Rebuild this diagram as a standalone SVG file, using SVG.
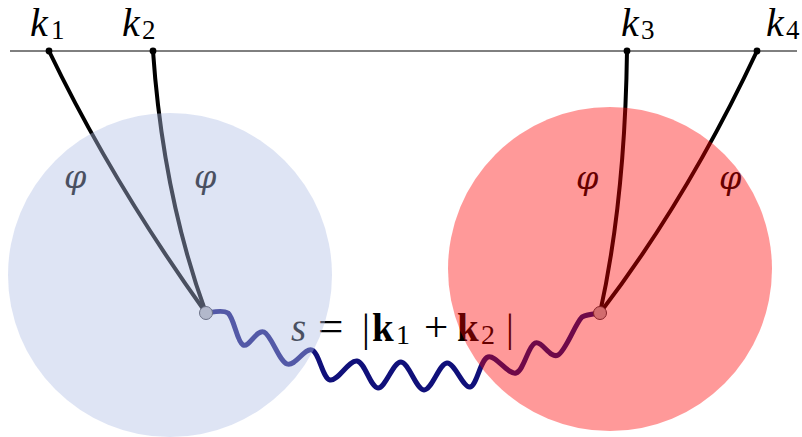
<svg xmlns="http://www.w3.org/2000/svg" width="802" height="437" viewBox="0 0 802 437">
<style>
.lbl{font-family:"Liberation Serif","DejaVu Serif",serif;fill:#000}
.it{font-style:italic}
.phi{font-family:"DejaVu Serif",serif;font-style:italic;font-size:32px;fill:#000}
.line{fill:none;stroke:#000;stroke-width:4;stroke-linecap:round}
.wave{fill:none;stroke:#10107a;stroke-width:5;stroke-linecap:round;stroke-linejoin:round}
.dot{fill:#000}
.vtx{fill:#b4b4b8;stroke:#3a3a44;stroke-width:1}
</style>
<rect width="802" height="437" fill="#fff"/>
<line id="axis" x1="10" y1="51" x2="797" y2="51" stroke="#000" stroke-width="1"/>
<g id="connectors">
<path class="line" d="M49,51 Q112,182 206,313"/>
<path class="line" d="M153,51 Q163,195 206,313"/>
<path class="line" d="M627,51 Q625,200 600,313"/>
<path class="line" d="M757,51 Q688,198 600,313"/>
<path class="wave" d="M206,313 C209.7,313 221.8,309 228,313 C234.2,318.3 237,341.8 243,345 C249,348.2 256.7,328.8 264,332 C271.3,335.2 279,361 287,364 C295,367 304.8,347.3 312,350 C319.2,352.7 322.5,378.2 330,380 C337.5,381.8 349,359.7 357,361 C365,362.3 370.7,387.8 378,388 C385.3,388.2 393.3,361.7 401,362 C408.7,362.3 416.3,389.8 424,390 C431.7,390.2 439.3,363.5 447,363 C454.7,362.5 463.2,388 470,387 C476.8,386 480.3,359.3 488,357 C495.7,354.7 508.2,375.3 516,373 C523.8,370.7 528,346 535,343 C542,340 550.2,359.3 558,355 C565.8,350.7 575,324 582,317 C588,314 597,313.7 600,313"/>
</g>
<g id="k1"><circle class="dot" cx="49" cy="51" r="3.4"/><text class="lbl" y="36" font-size="40"><tspan class="it" x="30">k</tspan><tspan x="51" font-size="27" dy="3">1</tspan></text></g>
<g id="k2"><circle class="dot" cx="153" cy="51" r="3.4"/><text class="lbl" y="36" font-size="40"><tspan class="it" x="122">k</tspan><tspan x="142" font-size="27" dy="3">2</tspan></text></g>
<g id="k3"><circle class="dot" cx="627" cy="51" r="3.4"/><text class="lbl" y="36" font-size="40"><tspan class="it" x="621">k</tspan><tspan x="641" font-size="27" dy="3">3</tspan></text></g>
<g id="k4"><circle class="dot" cx="757" cy="51" r="3.4"/><text class="lbl" y="36" font-size="40"><tspan class="it" x="766">k</tspan><tspan x="786" font-size="27" dy="3">4</tspan></text></g>
<g id="phi-labels">
<text class="phi" x="64" y="188">φ</text>
<text class="phi" x="194" y="188">φ</text>
<text class="phi" x="576" y="189">φ</text>
<text class="phi" x="719" y="189">φ</text>
</g>
<g id="formula"><text class="lbl" y="341" font-size="39"><tspan class="it" x="291">s</tspan><tspan x="318" font-size="45">=</tspan><tspan x="362">|</tspan><tspan x="372" font-weight="bold">k</tspan><tspan x="396" font-size="28" dy="3">1</tspan><tspan x="424" dy="-3" font-size="43">+</tspan><tspan x="457" font-weight="bold">k</tspan><tspan x="481" font-size="28" dy="3">2</tspan><tspan x="506" dy="-3">|</tspan></text></g>
<g id="vertex-left"><circle class="vtx" cx="206" cy="313" r="6.5"/></g>
<g id="vertex-right"><circle class="vtx" cx="600" cy="313" r="6.5"/></g>
<g id="blob-left"><circle cx="170" cy="275" r="162" fill="#b0bee4" fill-opacity="0.42"/></g>
<g id="blob-right"><circle cx="610" cy="269" r="162" fill="#ff0000" fill-opacity="0.4"/></g>
</svg>
